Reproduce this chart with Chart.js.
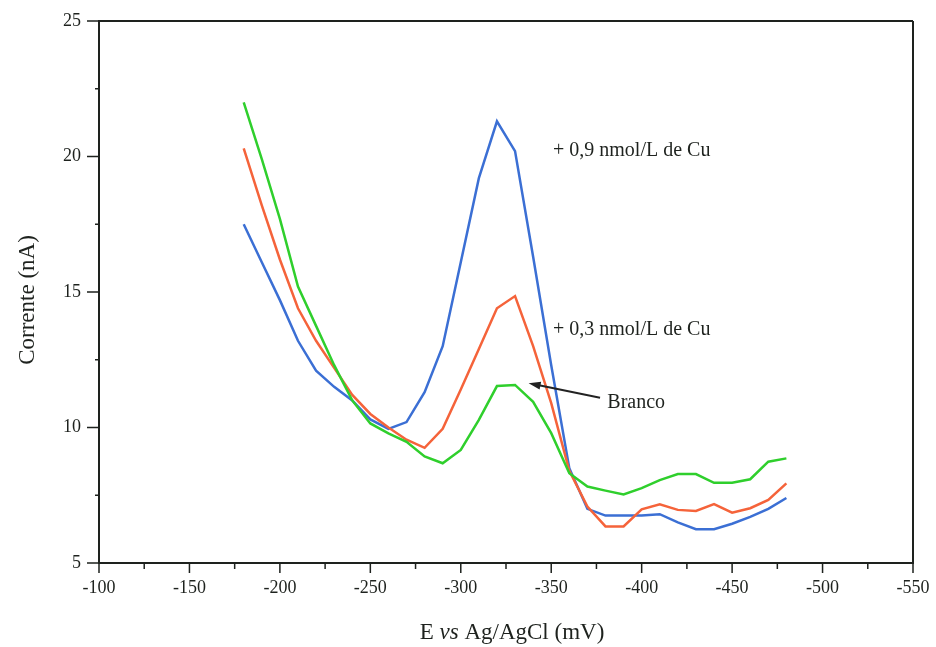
<!DOCTYPE html>
<html>
<head>
<meta charset="utf-8">
<script src="https://cdn.jsdelivr.net/npm/chart.js@4.4.1/dist/chart.umd.min.js"></script>
<style>
  html, body { margin: 0; padding: 0; background: #fff; }
  #wrap { width: 936px; height: 647px; }
</style>
</head>
<body>
<div id="wrap"><canvas id="voltChart" width="936" height="647"></canvas></div>
<script>
// potencial (mV) vs corrente (nA)
const potencial = [-180, -190, -200, -210, -220, -230, -240, -250, -260, -270, -280, -290, -300, -310, -320, -330,
  -340, -350, -360, -370, -380, -390, -400, -410, -420, -430, -440, -450, -460, -470, -480];

const cu09 = [17.5, 16.1, 14.7, 13.2, 12.1, 11.5, 11.0, 10.3, 9.95, 10.2, 11.3, 13.0, 16.1, 19.2, 21.3, 20.2,
  16.3, 12.3, 8.5, 7.0, 6.75, 6.75, 6.75, 6.8, 6.5, 6.25, 6.25, 6.45, 6.7, 7.0, 7.4];

const cu03 = [20.3, 18.2, 16.2, 14.4, 13.2, 12.2, 11.2, 10.5, 10.0, 9.55, 9.25, 9.95, 11.4, 12.9, 14.4, 14.85,
  13.0, 10.9, 8.4, 7.08, 6.35, 6.35, 6.98, 7.17, 6.96, 6.92, 7.17, 6.86, 7.02, 7.33, 7.94];

const branco = [22.0, 19.9, 17.7, 15.2, 13.75, 12.3, 11.0, 10.15, 9.78, 9.47, 8.93, 8.68, 9.17, 10.28, 11.53, 11.57,
  10.95, 9.79, 8.31, 7.82, 7.67, 7.53, 7.76, 8.06, 8.28, 8.28, 7.96, 7.96, 8.09, 8.74, 8.86];

const xTicks = [-100, -150, -200, -250, -300, -350, -400, -450, -500, -550];
const yTicks = [5, 10, 15, 20, 25];

const serif = '"Liberation Serif", "DejaVu Serif", serif';
const ink = '#1e221e';

const toPts = ys => potencial.map((x, i) => ({ x: x, y: ys[i] }));

// stop chart.js from adding room for the end tick labels
const noPad = s => { s.paddingTop = 0; s.paddingBottom = 0; s.paddingLeft = 0; s.paddingRight = 0; };

// ticks, frame, axis titles and the text labels on the plot
const decor = {
  id: 'decor',
  afterDraw(chart) {
    const { ctx, chartArea: a, scales: { x, y } } = chart;
    ctx.save();
    ctx.strokeStyle = ink;
    ctx.lineWidth = 2;
    ctx.beginPath();
    ctx.moveTo(a.left, a.top); ctx.lineTo(a.right, a.top);
    ctx.moveTo(a.right, a.top); ctx.lineTo(a.right, a.bottom);
    ctx.stroke();

    ctx.lineWidth = 1.5;
    ctx.beginPath();
    for (let v = -100; v >= -550; v -= 25) {
      const px = x.getPixelForValue(v);
      const len = v % 50 === 0 ? 10 : 6;
      ctx.moveTo(px, a.bottom); ctx.lineTo(px, a.bottom + len);
    }
    for (let v = 5; v <= 25; v += 2.5) {
      const py = y.getPixelForValue(v);
      const len = v % 5 === 0 ? 12 : 4;
      ctx.moveTo(a.left - len, py); ctx.lineTo(a.left, py);
    }
    ctx.stroke();

    ctx.fillStyle = ink;
    // y title
    ctx.save();
    ctx.translate(28, 300);
    ctx.rotate(-Math.PI / 2);
    ctx.font = '23px ' + serif;
    ctx.textAlign = 'center';
    ctx.textBaseline = 'middle';
    ctx.fillText('Corrente (nA)', 0, 0);
    ctx.restore();

    // x title with italic "vs"
    const parts = [['E ', 'normal'], ['vs', 'italic'], [' Ag/AgCl (mV)', 'normal']];
    let total = 0;
    parts.forEach(p => { ctx.font = p[1] + ' 23px ' + serif; total += ctx.measureText(p[0]).width; });
    let cx = 512 - total / 2;
    ctx.textBaseline = 'middle';
    ctx.textAlign = 'left';
    parts.forEach(p => {
      ctx.font = p[1] + ' 23px ' + serif;
      ctx.fillText(p[0], cx, 633);
      cx += ctx.measureText(p[0]).width;
    });

    // labels on plot
    ctx.font = '20px ' + serif;
    ctx.fillText('+ 0,9 nmol/L de Cu', x.getPixelForValue(-351), y.getPixelForValue(20.2));
    ctx.fillText('+ 0,3 nmol/L de Cu', x.getPixelForValue(-351), y.getPixelForValue(13.6));
    ctx.fillText('Branco', x.getPixelForValue(-381), y.getPixelForValue(10.9));

    // arrow to Branco curve
    const x0 = x.getPixelForValue(-377), y0 = y.getPixelForValue(11.1);
    const x1 = x.getPixelForValue(-337.5), y1 = y.getPixelForValue(11.63);
    ctx.strokeStyle = '#222';
    ctx.lineWidth = 2;
    ctx.beginPath(); ctx.moveTo(x0, y0); ctx.lineTo(x1 + 8, y1 + 1.5); ctx.stroke();
    const ang = Math.atan2(y1 - y0, x1 - x0);
    ctx.beginPath();
    ctx.moveTo(x1, y1);
    ctx.lineTo(x1 - 12 * Math.cos(ang) + 4 * Math.sin(ang), y1 - 12 * Math.sin(ang) - 4 * Math.cos(ang));
    ctx.lineTo(x1 - 12 * Math.cos(ang) - 4 * Math.sin(ang), y1 - 12 * Math.sin(ang) + 4 * Math.cos(ang));
    ctx.closePath();
    ctx.fillStyle = '#222';
    ctx.fill();
    ctx.restore();
  }
};

new Chart(document.getElementById('voltChart'), {
  type: 'scatter',
  data: {
    datasets: [
      { label: 'Branco', data: toPts(branco), borderColor: '#2fcf2c' },
      { label: '+ 0,3 nmol/L de Cu', data: toPts(cu03), borderColor: '#f5633a' },
      { label: '+ 0,9 nmol/L de Cu', data: toPts(cu09), borderColor: '#3b6fd4' }
    ].map(d => Object.assign(d, { showLine: true, borderWidth: 2.5, pointRadius: 0, tension: 0, fill: false }))
  },
  options: {
    responsive: false,
    animation: false,
    layout: { padding: { top: 21, right: 23, left: 0, bottom: 0 } },
    plugins: { legend: { display: false }, tooltip: { enabled: false } },
    scales: {
      x: {
        type: 'linear',
        reverse: true,
        min: -550, max: -100,
        afterBuildTicks: s => { s.ticks = xTicks.map(v => ({ value: v })); },
        afterFit: s => { s.height = 84; noPad(s); },
        grid: { display: false, drawTicks: false },
        border: { display: true, color: ink, width: 2 },
        ticks: { padding: 14, color: ink, font: { family: serif, size: 18 }, maxRotation: 0 }
      },
      y: {
        min: 5, max: 25,
        afterBuildTicks: s => { s.ticks = yTicks.map(v => ({ value: v })); },
        afterFit: s => { s.width = 99; noPad(s); },
        grid: { display: false, drawTicks: false },
        border: { display: true, color: ink, width: 2 },
        ticks: { padding: 18, color: ink, font: { family: serif, size: 18 } }
      }
    }
  },
  plugins: [decor]
});
</script>
</body>
</html>
